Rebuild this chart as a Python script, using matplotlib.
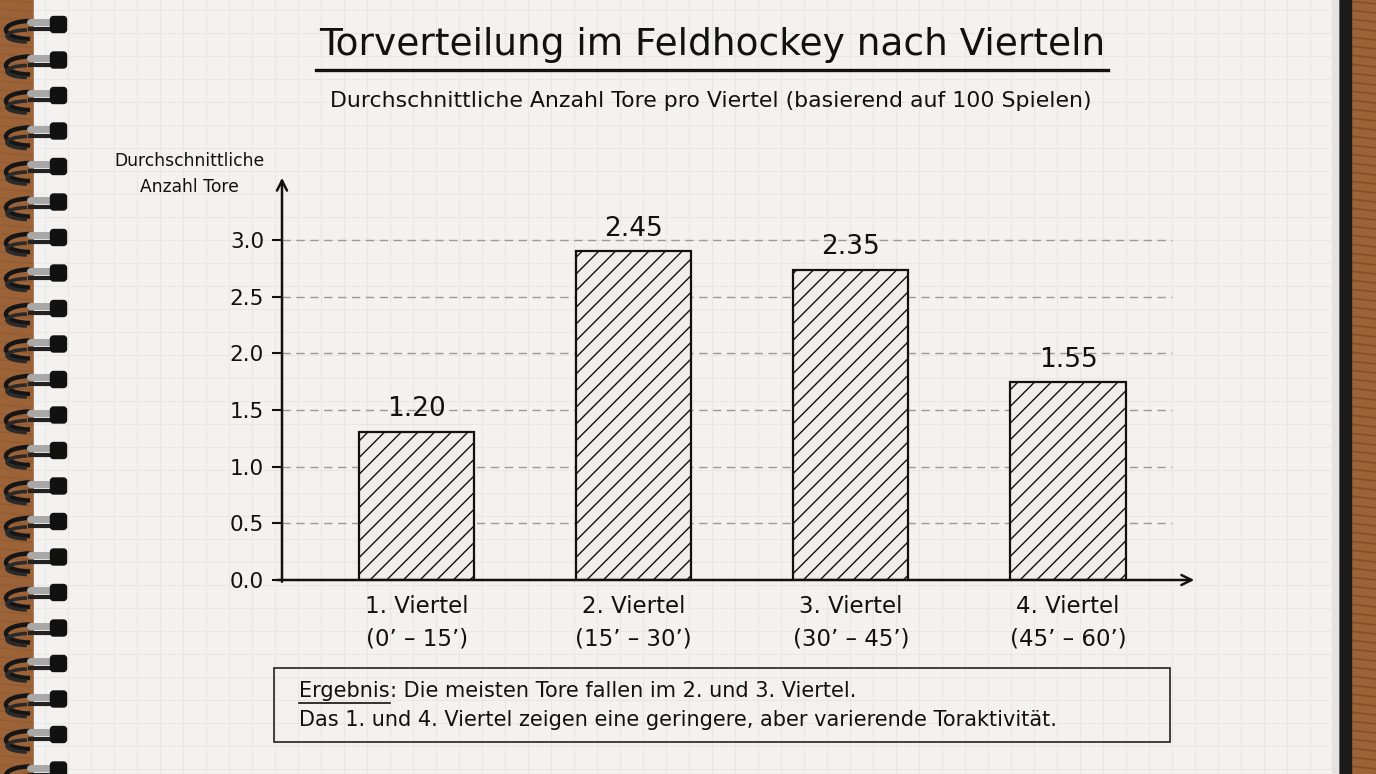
import matplotlib
matplotlib.use('Agg')
import matplotlib.pyplot as plt
from matplotlib.patches import Rectangle, Arc, FancyBboxPatch
import numpy as np

# data
quarters = ['1. Viertel\n(0’ – 15’)', '2. Viertel\n(15’ – 30’)',
            '3. Viertel\n(30’ – 45’)', '4. Viertel\n(45’ – 60’)']
bar_heights = [1.31, 2.90, 2.74, 1.75]
value_labels = ['1.20', '2.45', '2.35', '1.55']
yticks = [0.0, 0.5, 1.0, 1.5, 2.0, 2.5, 3.0]

title = 'Torverteilung im Feldhockey nach Vierteln'
subtitle = 'Durchschnittliche Anzahl Tore pro Viertel (basierend auf 100 Spielen)'
ylabel = 'Durchschnittliche\nAnzahl Tore'
note_word = 'Ergebnis'
note_line1 = ': Die meisten Tore fallen im 2. und 3. Viertel.'
note_line2 = 'Das 1. und 4. Viertel zeigen eine geringere, aber varierende Toraktivität.'

plt.rcParams['font.family'] = ['DejaVu Sans']
plt.rcParams['hatch.linewidth'] = 1.0

W, H = 1376, 774
fig = plt.figure(figsize=(W / 100, H / 100), dpi=100)

# ---- background: table, notebook page, grid, spiral ----
bg = fig.add_axes([0, 0, 1, 1], zorder=-5)
bg.set_xlim(0, W)
bg.set_ylim(H, 0)
bg.axis('off')

bg.add_patch(Rectangle((0, 0), W, H, color='#9c6238', zorder=0))
for yy in range(0, H, 9):
    bg.plot([1340, W], [yy, yy + 4], color='#6e3f1f', lw=1.2, alpha=0.5, zorder=0.5)
    bg.plot([0, 40], [yy, yy + 3], color='#8a5329', lw=1.0, alpha=0.4, zorder=0.5)
bg.add_patch(Rectangle((1338, 0), 13, H, color='#1c1a18', zorder=1))
bg.add_patch(Rectangle((34, 0), 1304, H, color='#f3f2f0', zorder=2))
bg.add_patch(Rectangle((1332, 0), 6, H, color='#e4e3e0', zorder=2.1))

for gx in np.arange(45, 1332, 23):
    bg.plot([gx, gx], [0, H], color='#e7e7e5', lw=0.8, zorder=2.2)
for gy in np.arange(10, H, 23):
    bg.plot([34, 1332], [gy, gy], color='#e7e7e5', lw=0.8, zorder=2.2)

for yc in np.arange(25, H + 10, 35.5):
    bg.add_patch(Arc((30, yc + 5), 48, 18, theta1=90, theta2=270, color='#151515', lw=3.2, zorder=3))
    bg.add_patch(Arc((28, yc + 11), 42, 12, theta1=100, theta2=260, color='#2a2a2a', lw=2.6, zorder=3))
    bg.plot([30, 54], [yc - 3, yc - 3], color='#a8a8a8', lw=5, solid_capstyle='round', zorder=3)
    bg.plot([30, 54], [yc + 4, yc + 4], color='#222222', lw=3, zorder=3)
    bg.add_patch(FancyBboxPatch((51, yc - 8), 15, 15, boxstyle='round,pad=0.5,rounding_size=3',
                                color='#111111', zorder=3.1))

# ---- chart axes ----
left, right, top, bottom = 282, 1197, 175, 580
ax = fig.add_axes([left / W, (H - bottom) / H, (right - left) / W, (bottom - top) / H])
ax.patch.set_alpha(0)
xmin, xmax = -0.62, 3.594
ymax = 3.574
ax.set_xlim(xmin, xmax)
ax.set_ylim(0, ymax)
for s in ax.spines.values():
    s.set_visible(False)

x = np.arange(len(quarters))
ax.hlines(yticks[1:], xmin, 3.48, colors='#9a9a9a', lw=1.0, linestyles=(0, (6, 4)), zorder=1)
ax.bar(x, bar_heights, width=0.53, facecolor='#efeeec', edgecolor='#111111',
       lw=1.6, hatch='//', zorder=3)
for xi, h, lab in zip(x, bar_heights, value_labels):
    ax.text(xi, h + 0.08, lab, ha='center', va='bottom', fontsize=19, color='#111111')

ax.annotate('', xy=(xmin, ymax), xytext=(xmin, -0.04),
            arrowprops=dict(arrowstyle='->', lw=1.8, color='#111111', mutation_scale=18),
            annotation_clip=False)
ax.annotate('', xy=(xmax, 0), xytext=(xmin - 0.035, 0),
            arrowprops=dict(arrowstyle='->', lw=1.8, color='#111111', mutation_scale=18),
            annotation_clip=False)

ax.set_yticks(yticks)
ax.set_yticklabels([f'{v:.1f}' for v in yticks])
ax.tick_params(axis='y', direction='out', length=7, width=1.5, pad=6,
               labelsize=15.5, colors='#111111')
ax.set_xticks(x)
ax.set_xticklabels(quarters, linespacing=1.5)
ax.tick_params(axis='x', length=0, pad=11, labelsize=16.5, colors='#111111')

# ---- texts ----
t = bg.text(712, 45, title, ha='center', va='center', fontsize=27, color='#111111', zorder=5)
bg.text(711, 101, subtitle, ha='center', va='center', fontsize=15.8, color='#111111', zorder=5)
bg.text(189, 174, ylabel, ha='center', va='center', fontsize=12.3, color='#111111',
        linespacing=1.55, zorder=5)

bg.add_patch(Rectangle((274, 668), 896, 74, fill=False, edgecolor='#333333', lw=1.3, zorder=4))
w = bg.text(299, 691, note_word, ha='left', va='center', fontsize=15, color='#111111', zorder=5)
fig.canvas.draw()
r = fig.canvas.get_renderer()
bb = w.get_window_extent(r)
bg.text(bb.x1, 691, note_line1, ha='left', va='center', fontsize=15, color='#111111', zorder=5)
bg.plot([bb.x0, bb.x1], [H - bb.y0 + 2, H - bb.y0 + 2], color='#111111', lw=1.2, zorder=5)
bg.text(299, 720, note_line2, ha='left', va='center', fontsize=15, color='#111111', zorder=5)

tb = t.get_window_extent(r)
bg.plot([tb.x0 - 3, tb.x1 + 3], [70, 70], color='#111111', lw=2.4, zorder=5)

fig.savefig('out.png', dpi=100)
